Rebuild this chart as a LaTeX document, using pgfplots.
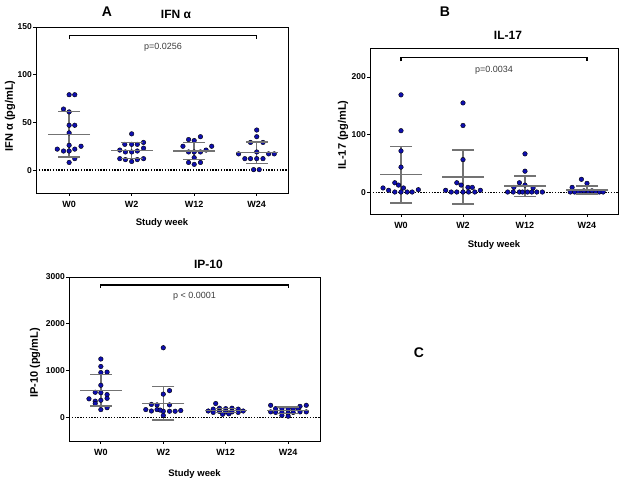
\documentclass[border=0pt]{standalone}
\usepackage{pgfplots}
\pgfplotsset{compat=1.18}
\usepackage{fontspec}
\setmainfont{Liberation Sans}
\definecolor{dotblue}{RGB}{15,15,175}
\definecolor{barcol}{RGB}{115,115,115}
\definecolor{ptext}{RGB}{60,60,60}
\pgfplotsset{
  panel/.style={
    scale only axis,
    anchor=south west,
    axis line style={line width=0.9pt},
    xtick={0,1,2,3},
    xticklabels={W0,W2,W12,W24},
    tick align=outside,
    xtick pos=bottom, ytick pos=left,
    major tick length=3pt,
    tick style={line width=0.8pt, black},
    x tick label style={font=\bfseries\fontsize{9}{10}\selectfont, inner sep=2.5pt, yshift=-3pt},
    y tick label style={font=\bfseries\fontsize{8.5}{10}\selectfont, inner sep=1pt},
    /pgf/number format/assume math mode=true,
    /pgf/number format/1000 sep={},
    scaled y ticks=false,
    xlabel={Study week},
    xlabel style={font=\bfseries\fontsize{9.5}{11}\selectfont},
    ylabel style={font=\bfseries\fontsize{11}{12}\selectfont},
    title style={font=\bfseries\fontsize{12}{13}\selectfont, at={(0.5,1)}, anchor=center, yshift=7pt, xshift=14pt},
    clip=false,
  },
  dots/.style={only marks, mark=*, mark size=2.3pt, mark options={draw=none, fill=dotblue}},
  meanl/.style={only marks, mark=-, mark size=21pt, mark options={line width=1.5pt, draw=barcol}},
  capl/.style={only marks, mark=-, mark size=11pt, mark options={line width=1.5pt, draw=barcol}},
  sdl/.style={barcol, line width=1.5pt, no marks},
  zero/.style={black, line width=1.3pt, dash pattern=on 1.4pt off 1.4pt},
  brk/.style={black, line width=1.1pt},
}
\begin{document}
\begin{tikzpicture}
\path[use as bounding box] (0,0) rectangle (625pt,484pt);

% ---------------- Panel A: IFN alpha ----------------
\begin{axis}[panel, at={(36pt,291pt)}, width=252pt, height=166pt,
  xmin=-0.53, xmax=3.5, ymin=-24, ymax=150, ytick={0,50,100,150},
  ylabel={IFN α (pg/mL)}, title={IFN α},
  ylabel style={at={([xshift=-26pt,yshift=-6pt]rel axis cs:0,0.5)}, anchor=center},
  xlabel style={yshift=-5pt}]
\addplot[zero] coordinates {(-0.53,0) (3.5,0)};
\addplot[dots] coordinates {
 (0,79) (0.09,79) (-0.09,64) (0,61) (0,47) (0.09,47) (0,39) (-0.19,22) (-0.09,20) (0,20) (0.09,22) (0.19,25) (0,26) (0.09,12) (0,8)
 (1,38) (0.89,27) (1,27) (1.09,27) (1.19,29) (1.19,23) (0.81,21) (0.9,19) (1,19) (1.09,20) (0.81,12) (0.9,11) (1,9) (1.09,11) (1.19,12)
 (2.1,35) (1.91,32) (2,31) (1.82,25) (2.28,25) (1.91,19) (2,19) (2.1,19) (2.19,21) (2,13) (1.91,8) (2,6) (2.1,8)
 (3,42) (3,35) (2.9,29) (3.1,29) (3,19) (2.71,17) (2.81,12) (2.9,12) (3,12) (3.1,12) (3.19,17) (3.28,17) (2.95,0.5) (3.04,0.5)
};
\addplot[sdl] coordinates {(0,13.5) (0,61.5)};
\addplot[sdl] coordinates {(1,12.2) (1,28.8)};
\addplot[sdl] coordinates {(2,11.2) (2,28.8)};
\addplot[sdl] coordinates {(3,6.9) (3,29.7)};
\addplot[meanl] coordinates {(0,37.5) (1,20.5) (2,20) (3,18.3)};
\addplot[capl] coordinates {(0,13.5) (0,61.5) (1,12.2) (1,28.8) (2,11.2) (2,28.8) (3,6.9) (3,29.7)};
\addplot[brk] coordinates {(0,137) (0,141) (3,141) (3,137)};
\node[font=\fontsize{9}{10}\selectfont, text=ptext] at (axis cs:1.5,128.5) {p=0.0256};
\end{axis}

% ---------------- Panel B: IL-17 ----------------
\begin{axis}[panel, at={(370pt,270pt)}, width=248pt, height=166pt,
  xmin=-0.5, xmax=3.5, ymin=-37, ymax=250, ytick={0,100,200},
  ylabel={IL-17 (pg/mL)}, title={IL-17},
  ylabel style={at={([xshift=-27pt,yshift=-4pt]rel axis cs:0,0.5)}, anchor=center},
  xlabel style={yshift=-6pt}]
\addplot[zero] coordinates {(-0.5,0) (3.5,0)};
\addplot[dots] coordinates {
 (0,169) (0,107) (0,72) (0,44) (-0.1,17) (-0.04,13) (0.04,8) (-0.29,8) (-0.2,4) (-0.1,1) (0,1) (0.1,1) (0.18,1) (0.28,5)
 (1,155) (1,116) (1,57) (0.9,17) (0.97,13) (1.08,9) (1.15,9) (0.72,4) (0.81,1) (0.9,1) (1,1) (1.09,1) (1.19,1) (1.28,4)
 (2,67) (2,37) (1.91,17) (1.82,9) (2,13) (2.13,8) (1.72,1) (1.81,1) (1.91,1) (1.96,1) (2.04,1) (2.11,1) (2.19,1) (2.28,1)
 (2.91,23) (3,16) (2.76,9) (2.73,1) (2.8,1) (2.86,1) (2.92,1) (2.97,1) (3.03,1) (3.08,1) (3.14,1) (3.2,1) (3.26,1) (2.95,3) (3.08,3)
};
\addplot[sdl] coordinates {(0,-18) (0,80)};
\addplot[sdl] coordinates {(1,-20) (1,74)};
\addplot[sdl] coordinates {(2,-7) (2,29)};
\addplot[sdl] coordinates {(3,-2.5) (3,11.5)};
\addplot[meanl] coordinates {(0,31) (1,27) (2,11) (3,4.5)};
\addplot[capl] coordinates {(0,-18) (0,80) (1,-20) (1,74) (2,-7) (2,29) (3,-2.5) (3,11.5)};
\addplot[brk] coordinates {(0,227) (0,234) (3,234) (3,227)};
\node[font=\fontsize{9}{10}\selectfont, text=ptext] at (axis cs:1.5,212) {p=0.0034};
\end{axis}

% ---------------- Panel C: IP-10 ----------------
\begin{axis}[panel, at={(69pt,43pt)}, width=251pt, height=164pt,
  xmin=-0.51, xmax=3.51, ymin=-500, ymax=3000, ytick={0,1000,2000,3000},
  ylabel={IP-10 (pg/mL)}, title={IP-10},
  ylabel style={at={([xshift=-34pt,yshift=-4pt]rel axis cs:0,0.5)}, anchor=center},
  xlabel style={yshift=-8pt}]
\addplot[zero] coordinates {(-0.51,0) (3.51,0)};
\addplot[dots] coordinates {
 (0,1250) (0,1090) (0,960) (0.1,970) (0,690) (-0.09,540) (0,530) (0.1,490) (0.1,410) (-0.19,400) (0,370) (-0.09,350) (-0.09,300) (0.1,210) (0,170)
 (1,1490) (1.1,575) (1,500) (0.81,280) (0.9,270) (1.1,270) (0.72,170) (0.81,140) (0.9,170) (1,135) (1.1,135) (1.19,135) (1.28,150) (0.95,160) (1,45)
 (1.84,300) (1.72,140) (1.8,180) (1.9,200) (2,190) (2.1,200) (2.2,180) (2.28,140) (1.8,110) (1.9,130) (2,120) (2.1,120) (2.2,110) (1.95,70) (2.05,80)
 (2.72,262) (3.29,262) (3.19,240) (2.8,190) (2.9,190) (3,190) (3.08,190) (3.16,190) (2.72,121) (2.8,110) (2.9,110) (3,100) (3.08,110) (3.19,121) (3.29,121) (3,30) (2.9,45)
};
\addplot[sdl] coordinates {(0,247) (0,917)};
\addplot[sdl] coordinates {(1,-57) (1,667)};
\addplot[sdl] coordinates {(2,105) (2,195)};
\addplot[sdl] coordinates {(3,85) (3,225)};
\addplot[meanl] coordinates {(0,582) (1,305) (2,150) (3,155)};
\addplot[capl] coordinates {(0,247) (0,917) (1,-57) (1,667) (2,105) (2,195) (3,85) (3,225)};
\addplot[brk] coordinates {(0,2760) (0,2830) (3,2830) (3,2760)};
\node[font=\fontsize{9}{10}\selectfont, text=ptext] at (axis cs:1.5,2596) {p < 0.0001};
\end{axis}

\node[font=\bfseries\fontsize{14}{16}\selectfont] at (107pt,472pt) {A};
\node[font=\bfseries\fontsize{14}{16}\selectfont] at (445pt,472pt) {B};
\node[font=\bfseries\fontsize{14}{16}\selectfont] at (419pt,131pt) {C};
\end{tikzpicture}
\end{document}
